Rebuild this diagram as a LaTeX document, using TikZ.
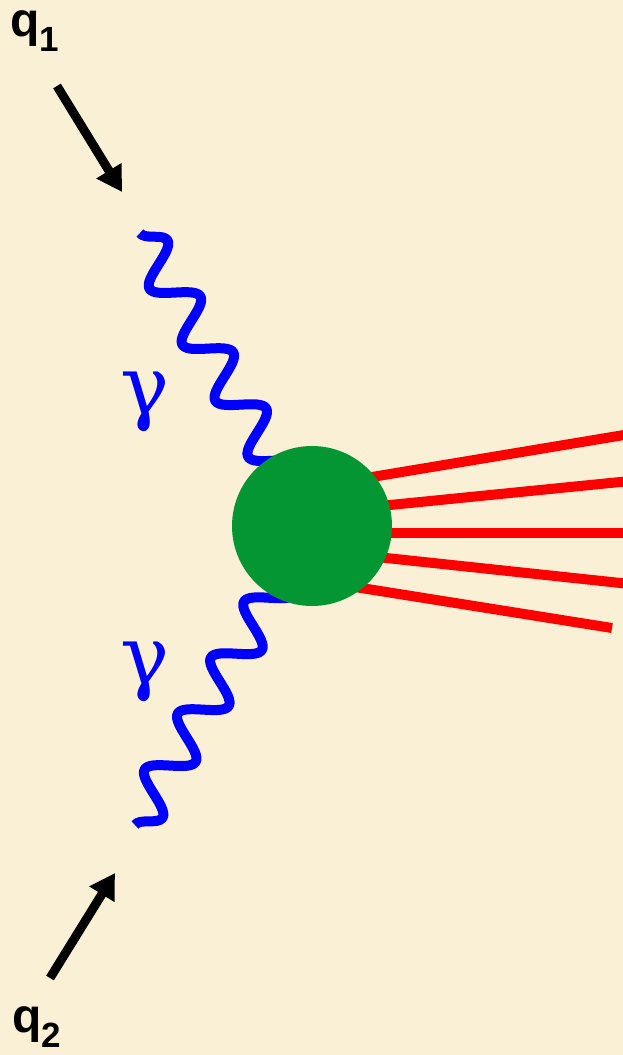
\documentclass[tikz,border=0pt]{standalone}
\usepackage{fontspec}
\setmainfont{Liberation Sans}
\newfontfamily\gfont{DejaVu Serif}
\usepackage{xcolor}
\definecolor{paper}{RGB}{250,240,214}
\definecolor{pgreen}{RGB}{5,150,52}
\definecolor{pblue}{RGB}{0,0,255}
\definecolor{pred}{RGB}{255,0,0}
\usetikzlibrary{arrows.meta,positioning,calc,decorations.pathmorphing}

\begin{document}
\begin{tikzpicture}[
  x=1pt,y=-1pt,
  blob/.style={circle,fill=pgreen,inner sep=0pt,minimum size=160pt},
  jet/.style={pred,line width=10pt},
  photon/.style={pblue,line width=10pt,line join=round,decorate,
    decoration={snake,segment length=65pt,amplitude=20pt}},
  mom/.style={-{Triangle[length=25pt,width=28pt]},line width=9pt,black},
  qlab/.style={inner sep=0pt,anchor=base west,font=\bfseries},
  glab/.style={inner sep=0pt,text=pblue,font=\gfont\fontsize{82}{82}\selectfont}
]
  % Background
  \fill[paper] (0,0) rectangle (623,1055);
  \useasboundingbox (0,0) rectangle (623,1055);

  % Jets
  \coordinate (j1a) at (330,484);  \coordinate (j1b) at (630,434);
  \coordinate (j2a) at (330,511);  \coordinate (j2b) at (630,481);
  \coordinate (j3a) at (330,533);  \coordinate (j3b) at (630,533);
  \coordinate (j4a) at (330,552);  \coordinate (j4b) at (630,584);
  \coordinate (j5a) at (330,583);  \coordinate (j5b) at (612,628);
  \draw[jet] (j1a) -- (j1b);
  \draw[jet] (j2a) -- (j2b);
  \draw[jet] (j3a) -- (j3b);
  \draw[jet] (j4a) -- (j4b);
  \draw[jet] (j5a) -- (j5b);

  % Photons (run on under the blob)
  \coordinate (vc) at (312,526);
  \coordinate (p1) at (140,233);
  \coordinate (p2) at (135,825);
  \draw[photon] (p1) -- (vc);
  \draw[photon,decoration={mirror}] (p2) -- (vc);
  \node[glab] (g1) at (145,402) {γ};
  \node[glab] (g2) at (145,672) {γ};

  % Blob
  \node[blob] (blob) at (vc) {};

  % Momenta
  \node[qlab] (q1) at (10,36) {\fontsize{48}{48}\selectfont q\raisebox{-15pt}{\fontsize{35}{35}\selectfont 1}};
  \node[qlab] (q2) at (12,1032) {\fontsize{48}{48}\selectfont q\raisebox{-15pt}{\fontsize{35}{35}\selectfont 2}};
  \coordinate (a1) at (57,86);  \coordinate (b1) at (122,192);
  \coordinate (a2) at (50,978); \coordinate (b2) at (115,873);
  \draw[mom] (a1) -- (b1);
  \draw[mom] (a2) -- (b2);
\end{tikzpicture}
\end{document}
